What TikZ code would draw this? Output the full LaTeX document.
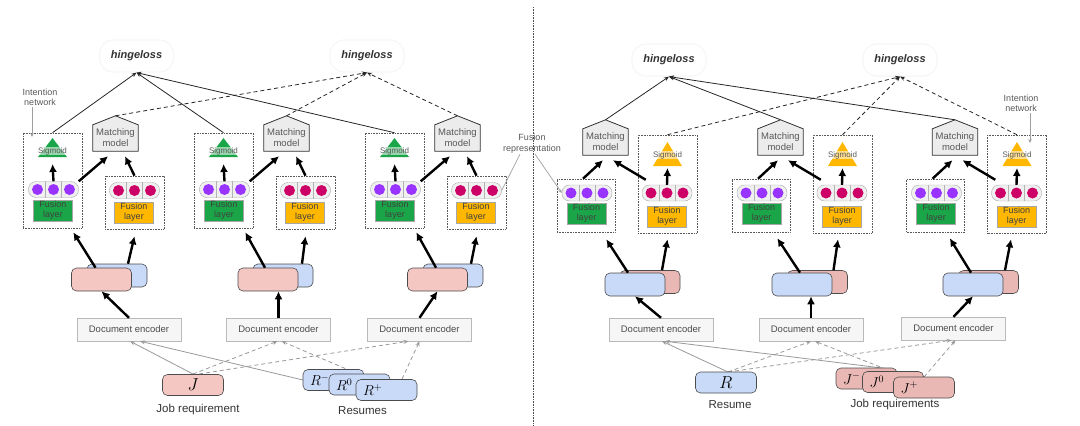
\documentclass[tikz,border=0pt]{standalone}
\usepackage[no-math]{fontspec}
\setmainfont{Liberation Sans}
\usetikzlibrary{arrows.meta,backgrounds}

\definecolor{pinkL}{RGB}{244,199,195}
\definecolor{pinkR}{RGB}{234,184,180}
\definecolor{bluebox}{RGB}{201,218,248}
\definecolor{fgreen}{RGB}{26,166,72}
\definecolor{forange}{RGB}{255,183,0}
\definecolor{dotpurple}{RGB}{153,51,255}
\definecolor{dotred}{RGB}{204,0,102}

% pill with three dots: name, centre, dot colour
\newcommand{\fvec}[3]{%
  \node[pill] (#1) at (#2) {};
  \draw[gray!60] ([xshift=-8pt]#1.north) -- ([xshift=-8pt]#1.south)
    ([xshift=8pt]#1.north) -- ([xshift=8pt]#1.south);
  \foreach \dx in {-16,0,16}
    \fill[#3] ([xshift=\dx pt]#1.center) circle (5.5pt);
}
% sigmoid triangle: name, apex, colour, height
\newcommand{\sigm}[4]{%
  \coordinate (#1) at (#2);
  \fill[#3] (#1) -- ([shift={(-14.5pt,-#4pt)}]#1) -- ([shift={(14.5pt,-#4pt)}]#1) -- cycle;
  \node[sigtxt] (#1-txt) at ([yshift=-13pt]#1) {Sigmoid};
}
% matching model house: name, centre of body
\newcommand{\mmodel}[2]{%
  \node[mmbody] (#1) at (#2) {Matching\\model};
  \coordinate (#1-top) at ([yshift=9pt]#1.north);
  \begin{scope}[on background layer]
    \draw[mmshape] (#1.south west) -- (#1.north west) -- (#1-top)
      -- (#1.north east) -- (#1.south east) -- cycle;
  \end{scope}
}

\begin{document}
\begin{tikzpicture}[x=1pt,y=-1pt,
  hinge/.style={draw=gray!7, line width=1.2pt, rounded corners=14pt, minimum width=74pt,
    minimum height=32pt, font=\bfseries\itshape\fontsize{11}{13}\selectfont, text=black!80},
  dbox/.style={draw=black!65, densely dotted, line width=0.6pt},
  pill/.style={draw=gray!70, fill=gray!12, rounded corners=7.5pt, minimum width=50pt,
    minimum height=16pt, inner sep=0pt},
  flayer/.style={draw=black!35, minimum width=39pt, minimum height=21pt, inner sep=0pt,
    align=center, font=\fontsize{9}{10}\selectfont, text=black!75},
  mmbody/.style={minimum width=45pt, minimum height=26pt, inner sep=0pt, align=center,
    font=\fontsize{9.5}{11}\selectfont, text=black!65},
  mmshape/.style={draw=black!80, fill=gray!15, line width=0.8pt},
  sigtxt/.style={font=\fontsize{8}{8}\selectfont, text=black!65, fill=white,
    fill opacity=0.55, text opacity=1, inner sep=0.5pt},
  enc/.style={draw=gray!55, fill=gray!7, minimum width=104pt, minimum height=23pt,
    font=\fontsize{9.5}{10}\selectfont, text=black!70},
  pair/.style={draw=black!70, rounded corners=5pt, minimum width=60pt, minimum height=23pt,
    line width=0.6pt},
  onebox/.style={draw=black!70, rounded corners=5pt, minimum width=61pt, minimum height=21pt,
    inner sep=0pt, line width=0.6pt, font=\fontsize{17}{17}\selectfont},
  stackbox/.style={onebox, inner xsep=7pt, text width=47pt, align=left,
    font=\fontsize{14}{14}\selectfont},
  fat/.style={-{Latex[length=8pt,width=8pt]}, line width=2.4pt},
  toloss/.style={-{Stealth[length=5pt,width=4pt]}, line width=0.8pt, black!85},
  tolossdash/.style={toloss, dash pattern=on 4pt off 3pt},
  feed/.style={-{Stealth[length=5pt,width=4pt]}, line width=0.8pt, gray!80},
  feeddash/.style={feed, dash pattern=on 4pt off 3pt},
  note/.style={font=\fontsize{9}{10.5}\selectfont, text=black!65, align=center, inner sep=1pt},
  noteline/.style={gray!75, line width=0.7pt},
  notearrow/.style={noteline, -{Stealth[length=4pt,width=3.5pt]}},
  caption/.style={font=\fontsize{11.5}{13}\selectfont, text=black!80}]
\useasboundingbox (0,0) rectangle (1080,426);

% divider
\draw[densely dotted, black!70, line width=0.6pt] (533,7) -- (533,426);

% losses
\node[hinge] (hL1) at (136.5,56) {hingeloss};
\node[hinge] (hL2) at (367,56) {hingeloss};
\node[hinge] (hR1) at (669,60) {hingeloss};
\node[hinge] (hR2) at (900,60) {hingeloss};

% left half: job requirement against resumes
\foreach \i/\x in {1/0,2/171,3/342} {
  \node[dbox, minimum width=59pt, minimum height=95pt] (intL\i) at (52.5+\x,180.5) {};
  \node[dbox, minimum width=59pt, minimum height=53pt] (fusL\i) at (134.5+\x,202.5) {};
  \sigm{sigL\i}{52.5+\x,138}{fgreen}{19}
  \fvec{vaL\i}{53.5+\x,189.5}{dotpurple}
  \node[flayer, fill=fgreen] (faL\i) at (53+\x,210.5) {Fusion\\layer};
  \fvec{vbL\i}{134.5+\x,190.5}{dotred}
  \node[flayer, fill=forange] (fbL\i) at (134+\x,212.5) {Fusion\\layer};
  \mmodel{mmL\i}{115.5+\x,138}
  \draw[fat] (vaL\i.north) -- ([yshift=-26pt]sigL\i);
  \draw[fat] (vaL\i.north east) -- ([shift={(-7.5pt,-5pt)}]mmL\i.south);
  \draw[fat] (fusL\i.north) -- ([shift={(9.5pt,-5pt)}]mmL\i.south);
  \draw[toloss] (intL\i.north) -- (hL1.south);
  \draw[tolossdash] (mmL\i-top) -- (hL2.south);
}

\node[pair, fill=bluebox] (blL1) at (117,275.5) {};
\node[pair, fill=pinkL] (pkL1) at (101.5,279.5) {};
\node[pair, fill=bluebox] (blL2) at (283,275.5) {};
\node[pair, fill=pinkL] (pkL2) at (268,279.5) {};
\node[pair, fill=bluebox] (blL3) at (453,275.5) {};
\node[pair, fill=pinkL] (pkL3) at (437.5,279.5) {};

\node[enc] (encL1) at (129,329.5) {Document encoder};
\node[enc] (encL2) at (278.5,329.5) {Document encoder};
\node[enc] (encL3) at (419.5,329.5) {Document encoder};

\draw[fat] (encL1.north) -- (pkL1.south);
\draw[fat] (encL2.north) -- (encL2.north |- pkL2.south);
\draw[fat] (encL3.north) -- (pkL3.south);
\draw[fat] ([xshift=-6pt]pkL1.north) -- ([xshift=-9pt,yshift=-4pt]intL1.south east);
\draw[fat] ([xshift=-3pt]pkL2.north) -- ([xshift=-8pt,yshift=-4pt]intL2.south east);
\draw[fat] ([xshift=-1.5pt]pkL3.north) -- ([xshift=-8pt,yshift=-4pt]intL3.south east);
\draw[fat] ([xshift=11pt]blL1.north) -- ([yshift=-7pt]fusL1.south);
\draw[fat] ([xshift=19pt]blL2.north) -- ([yshift=-7pt]fusL2.south);
\draw[fat] ([xshift=18pt]blL3.north) -- ([yshift=-7pt]fusL3.south);

% left inputs
\coordinate (jLtop) at (193,374);
\draw[feed] (jLtop) -- ([xshift=1pt]encL1.south);
\draw[feeddash] (jLtop) -- ([xshift=-1pt]encL2.south);
\draw[feeddash] ([xshift=6pt]jLtop) -- ([xshift=-11pt]encL3.south);
\draw[feed] (303,380) -- ([xshift=11pt]encL1.south);
\draw[feeddash] (358,374) -- ([xshift=3pt]encL2.south);
\draw[feeddash] (402,379) -- (encL3.south);

\node[onebox, fill=pinkL] (jL) at (193,385) {$J$};
\node[stackbox, fill=bluebox] (rmL) at (333.5,380) {$R^-$};
\node[stackbox, fill=bluebox] (rzL) at (359.5,384.5) {$R^0$};
\node[stackbox, fill=bluebox] (rpL) at (386.5,390) {$R^+$};
\node[caption] (capJL) at (198,410) {Job requirement};
\node[caption] (capRL) at (362.5,410.5) {Resumes};

% right half: resume against job requirements
\foreach \i/\x in {1/0,2/175,3/349.5} {
  \node[dbox, minimum width=58pt, minimum height=53pt] (fusR\i) at (586+\x,205.5) {};
  \node[dbox, minimum width=59pt, minimum height=98pt] (intR\i) at (667.5+\x,184) {};
  \sigm{sigR\i}{667.5+\x,142}{forange}{24}
  \fvec{vaR\i}{587+\x,193}{dotpurple}
  \node[flayer, fill=fgreen] (faR\i) at (586.5+\x,213.5) {Fusion\\layer};
  \fvec{vbR\i}{667+\x,193}{dotred}
  \node[flayer, fill=forange] (fbR\i) at (667+\x,216.5) {Fusion\\layer};
  \mmodel{mmR\i}{605.5+\x,142}
  \draw[fat] (vbR\i.north) -- ([yshift=-26pt]sigR\i);
  \draw[fat] ([xshift=-3pt]fusR\i.north) -- ([shift={(-2.5pt,-5pt)}]mmR\i.south);
  \draw[fat] ([shift={(4pt,5pt)}]vbR\i.north west) -- ([shift={(7.5pt,-5pt)}]mmR\i.south);
  \draw[toloss] (mmR\i-top) -- (hR1.south);
  \draw[tolossdash] (intR\i.north) -- (hR2.south);
}

\node[pair, fill=pinkR] (pkR1) at (650,282) {};
\node[pair, fill=bluebox] (blR1) at (635,284.5) {};
\node[pair, fill=pinkR] (pkR2) at (817.5,282) {};
\node[pair, fill=bluebox] (blR2) at (802,284.5) {};
\node[pair, fill=pinkR] (pkR3) at (988.5,282) {};
\node[pair, fill=bluebox] (blR3) at (973,284.5) {};

\node[enc] (encR1) at (661,329.5) {Document encoder};
\node[enc] (encR2) at (811,329.5) {Document encoder};
\node[enc] (encR3) at (953.5,328.5) {Document encoder};

\draw[fat] (encR1.north) -- (blR1.south);
\draw[fat] (encR2.north) -- (encR2.north |- blR2.south);
\draw[fat] (encR3.north) -- (blR3.south);
\draw[fat] ([xshift=-7pt]blR1.north) -- ([xshift=-9pt,yshift=-7pt]fusR1.south east);
\draw[fat] ([xshift=-2pt]blR2.north) -- ([xshift=-13pt,yshift=-6pt]fusR2.south east);
\draw[fat] ([xshift=-2pt]blR3.north) -- ([xshift=-15pt,yshift=-6pt]fusR3.south east);
\draw[fat] ([xshift=12pt]pkR1.north) -- ([yshift=-6pt]intR1.south);
\draw[fat] ([xshift=16pt]pkR2.north) -- ([xshift=-4.5pt,yshift=-6pt]intR2.south);
\draw[fat] ([xshift=16.5pt]pkR3.north) -- ([xshift=-6pt,yshift=-6pt]intR3.south);

% right inputs
\coordinate (rRtop) at (728,372);
\draw[feed] (rRtop) -- ([xshift=1pt]encR1.south);
\draw[feeddash] (rRtop) -- (encR2.south);
\draw[feeddash] (rRtop) -- ([xshift=-2pt]encR3.south);
\draw[feed] (890,369) -- ([xshift=4pt]encR1.south);
\draw[feeddash] (893,372) -- ([xshift=4pt]encR2.south);
\draw[feeddash] (924,377) -- ([xshift=2pt]encR3.south);

\node[onebox, fill=bluebox] (rR) at (726,382.5) {$R$};
\node[stackbox, fill=pinkR] (jmR) at (866.5,378.5) {$J^-$};
\node[stackbox, fill=pinkR] (jzR) at (893,382) {$J^0$};
\node[stackbox, fill=pinkR] (jpR) at (924,387.5) {$J^+$};
\node[caption] (capRR) at (730,405) {Resume};
\node[caption] (capJR) at (895,405) {Job requirements};

% notes
\node[note] (ilL) at (40,97.5) {Intention\\network};
\coordinate (ilLend) at (32,137);
\draw[notearrow] ([xshift=-8pt]ilL.south) -- (ilLend);
\node[note] (ilR) at (1021,103.5) {Intention\\network};
\coordinate (ilRend) at (1030,143);
\draw[notearrow] ([xshift=9pt]ilR.south) -- (ilRend);
\node[note] (frep) at (532,143.5) {Fusion\\representation};
\draw[noteline] ([xshift=-12pt]frep.south) -- (vbL3.east);
\draw[notearrow] ([xshift=3pt]frep.south) -- (vaR1.west);
\end{tikzpicture}
\end{document}
